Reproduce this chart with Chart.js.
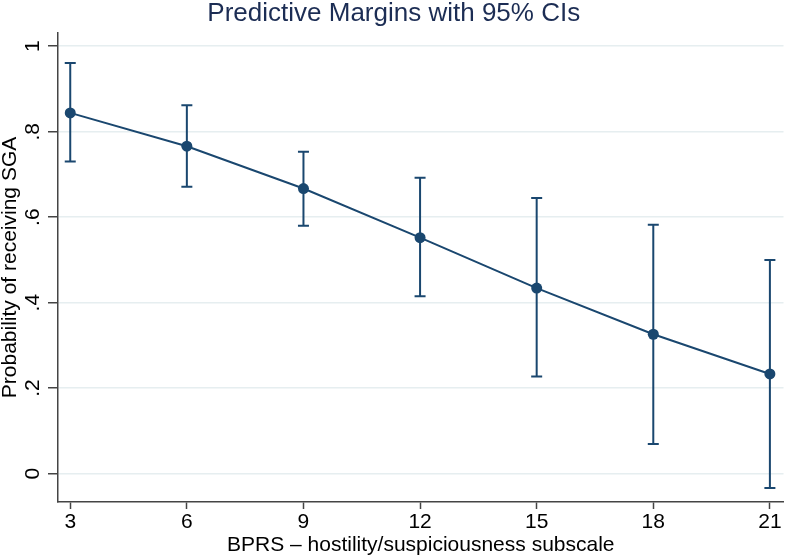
<!DOCTYPE html>
<html>
<head>
<meta charset="utf-8">
<script src="https://cdn.jsdelivr.net/npm/chart.js@4"></script>
<style>
 body{margin:0;background:#fff}
 #wrap{width:789px;height:557px}
</style>
</head>
<body>
<div id="wrap"><canvas id="chart" width="789" height="557"></canvas></div>
<script>
// BPRS hostility score, predicted margin and 95% CI bounds
const xVals=[3,6,9,12,15,18,21];
const margins=[0.844,0.766,0.667,0.552,0.434,0.326,0.233];
const ciLow=[0.730,0.671,0.580,0.415,0.227,0.069,-0.034];
const ciHigh=[0.961,0.862,0.753,0.692,0.645,0.582,0.500];

const xTicks=[3,6,9,12,15,18,21];
const yTicks=[0,0.2,0.4,0.6,0.8,1];
const yTickLabels=["0",".2",".4",".6",".8","1"];

const navy="#1a476f";
const font="'Liberation Sans', Helvetica, Arial, sans-serif";

// rcap style error bars
const errBars={
 id:"errBars",
 beforeDatasetsDraw(c){
  const ctx=c.ctx,xs=c.scales.x,ys=c.scales.y;
  ctx.save();
  ctx.strokeStyle=navy;ctx.lineWidth=2;
  for(let i=0;i<xVals.length;i++){
   let px=xs.getPixelForValue(xVals[i]);
   let lo=ys.getPixelForValue(ciLow[i]),hi=ys.getPixelForValue(ciHigh[i]);
   ctx.beginPath();
   ctx.moveTo(px,lo);ctx.lineTo(px,hi);
   ctx.moveTo(px-5.5,lo);ctx.lineTo(px+5.5,lo);
   ctx.moveTo(px-5.5,hi);ctx.lineTo(px+5.5,hi);
   ctx.stroke();
  }
  ctx.restore();
 }
};

new Chart(document.getElementById("chart"),{
 type:"line",
 data:{datasets:[{
  data:xVals.map((x,i)=>({x,y:margins[i]})),
  borderColor:navy,backgroundColor:navy,borderWidth:2,
  pointRadius:5.5,pointBackgroundColor:navy,pointBorderColor:navy,pointBorderWidth:0,
  tension:0
 }]},
 options:{
  responsive:false,animation:false,
  layout:{padding:{left:0,right:1.5,top:0,bottom:0}},
  plugins:{
   legend:{display:false},tooltip:{enabled:false},
   title:{display:true,text:"Predictive Margins with 95% CIs",color:"#1c2d54",
    font:{family:font,size:26,weight:"normal",lineHeight:1},padding:{top:1,bottom:6}}
  },
  scales:{
   x:{type:"linear",min:2.685,max:21.35,
    afterBuildTicks:s=>{s.ticks=xTicks.map(v=>({value:v}))},
    afterFit:s=>{s.height=55},
    ticks:{color:"#000",font:{family:font,size:21},padding:1,maxRotation:0,autoSkip:false},
    grid:{display:true,drawOnChartArea:false,tickLength:7,tickColor:"#444",tickWidth:1.5},
    border:{display:true,color:"#444",width:1.5},
    title:{display:true,text:"BPRS – hostility/suspiciousness subscale",color:"#000",
     font:{family:font,size:21,lineHeight:1},padding:{top:0,bottom:1}}
   },
   y:{type:"linear",min:-0.0666,max:1.031,
    afterBuildTicks:s=>{s.ticks=yTicks.map(v=>({value:v}))},
    afterFit:s=>{s.width=58},
    ticks:{color:"#000",font:{family:font,size:21},padding:6,minRotation:90,maxRotation:90,
     crossAlign:"center",autoSkip:false,
     callback:(v)=>yTickLabels[yTicks.indexOf(v)]},
    grid:{color:"#e6eef0",lineWidth:1.5,tickLength:10,tickColor:"#444",tickWidth:1.5},
    border:{display:true,color:"#444",width:1.5},
    title:{display:true,text:"Probability of receiving SGA",color:"#000",
     font:{family:font,size:21,lineHeight:1},padding:{top:0,bottom:0}}
   }
  }
 },
 plugins:[errBars]
});
</script>
</body>
</html>
